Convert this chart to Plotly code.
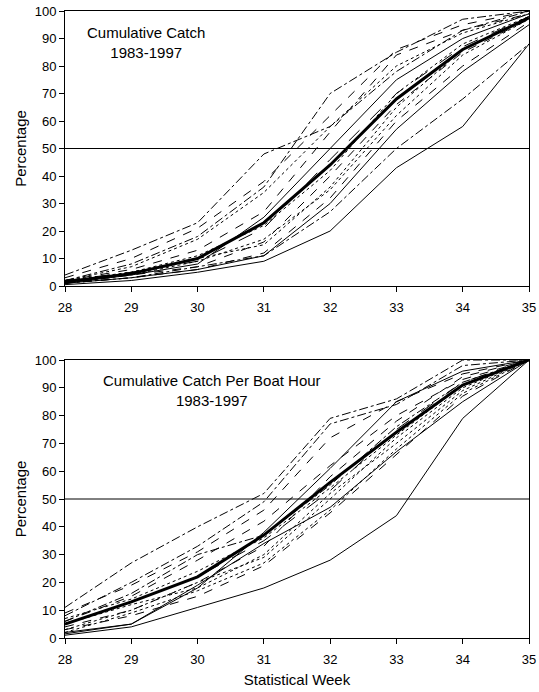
import plotly.graph_objects as go

weeks = [28, 29, 30, 31, 32, 33, 34, 35]

# Cumulative catch (%), 15 seasons 1983-1997
catch_years = [
    [0.5, 2, 5, 9, 20, 43, 58, 88],
    [1, 3, 6, 11, 30, 57, 78, 95],
    [1, 4, 8, 25, 50, 75, 90, 99],
    [4, 13, 23, 48, 58, 78, 93, 100],
    [2, 8, 18, 36, 70, 85, 97, 100],
    [3, 10, 21, 38, 62, 86, 95, 100],
    [2, 6, 13, 27, 56, 84, 93, 99],
    [2, 7, 17, 34, 58, 80, 92, 99],
    [1, 5, 11, 22, 42, 70, 88, 98],
    [1, 4, 9, 17, 35, 62, 84, 97],
    [1, 3, 7, 11, 27, 50, 68, 88],
    [1, 3, 6, 12, 32, 60, 80, 96],
    [2, 5, 10, 15, 36, 65, 86, 98],
    [1, 4, 7, 16, 40, 66, 85, 97],
    [2, 5, 9, 21, 46, 70, 87, 98],
]
catch_mean = [1.5, 4.5, 10, 23, 44, 68, 86, 97.5]

# Cumulative catch per boat hour (%)
cpue_years = [
    [1, 4, 11, 18, 28, 44, 79, 100],
    [2, 5, 19, 34, 47, 67, 85, 100],
    [1.5, 5, 18, 38, 61, 85, 96, 100],
    [11, 27, 40, 52, 79, 86, 100, 100],
    [8, 20, 33, 49, 77, 84, 98, 100],
    [9, 19, 31, 46, 72, 85, 95, 100],
    [6, 15, 28, 42, 62, 80, 93, 100],
    [3, 10, 20, 29, 50, 72, 90, 100],
    [2, 9, 17, 27, 46, 68, 88, 100],
    [5, 12, 18, 30, 52, 70, 89, 100],
    [6, 16, 30, 37, 55, 76, 92, 100],
    [4, 10, 20, 33, 58, 78, 94, 100],
    [7, 14, 24, 36, 54, 73, 91, 100],
    [3, 8, 15, 26, 45, 66, 87, 100],
    [5, 13, 22, 35, 53, 75, 92, 100],
]
cpue_mean = [5, 13, 22, 37, 56, 74, 91, 100]

dashes = ["solid", "solid", "solid", "dashdot", "dashdot", "dash", "dash", "dot",
          "dot", "dot", "dashdot", "dash", "dot", "dash", "longdash"]

fig = go.Figure()

for ys, ax in [(catch_years, ("x", "y")), (cpue_years, ("x2", "y2"))]:
    for i, y in enumerate(ys):
        fig.add_trace(go.Scatter(x=weeks, y=y, mode="lines", xaxis=ax[0], yaxis=ax[1],
                                 line=dict(color="black", width=1, dash=dashes[i]),
                                 showlegend=False, hoverinfo="skip"))

fig.add_trace(go.Scatter(x=weeks, y=catch_mean, mode="lines", xaxis="x", yaxis="y",
                         line=dict(color="black", width=3), showlegend=False))
fig.add_trace(go.Scatter(x=weeks, y=cpue_mean, mode="lines", xaxis="x2", yaxis="y2",
                         line=dict(color="black", width=3), showlegend=False))

font = dict(family="Liberation Sans, Arial, sans-serif", color="black")
axis_common = dict(showline=True, linecolor="black", linewidth=1, mirror=True,
                   ticks="outside", ticklen=5, tickcolor="black", showgrid=False,
                   zeroline=False, automargin=False, tickfont=dict(size=13, **font),
                   ticklabeloverflow="allow")
xaxis_extra = dict(ticklabelstandoff=4)

W, H = 539, 692


def fx(px):
    return px / W


def fy(py):
    return 1 - py / H


xd = [fx(65), fx(529)]
fig.update_layout(
    width=W, height=H,
    margin=dict(l=0, r=0, t=0, b=0, autoexpand=False),
    plot_bgcolor="white", paper_bgcolor="white",
    font=font,
    xaxis=dict(domain=xd, range=[28, 35], dtick=1, anchor="y", **axis_common, **xaxis_extra),
    yaxis=dict(domain=[fy(286), fy(11)], range=[0, 100], dtick=10, anchor="x",
               title=dict(text="Percentage", font=dict(size=15, **font), standoff=4),
               **axis_common),
    xaxis2=dict(domain=xd, range=[28, 35], dtick=1, anchor="y2",
                title=dict(text="Statistical Week", font=dict(size=15, **font), standoff=8),
                **axis_common, **xaxis_extra),
    yaxis2=dict(domain=[fy(638), fy(360)], range=[0, 100], dtick=10, anchor="x2",
                title=dict(text="Percentage", font=dict(size=15, **font), standoff=4),
                **axis_common),
    shapes=[
        dict(type="line", xref="x domain", yref="y", x0=0, x1=1, y0=50, y1=50,
             line=dict(color="black", width=1)),
        dict(type="line", xref="x2 domain", yref="y2", x0=0, x1=1, y0=50, y1=50,
             line=dict(color="black", width=1)),
    ],
    annotations=[
        dict(text="Cumulative Catch<br>1983-1997", xref="paper", yref="paper",
             x=fx(146), y=fy(43), showarrow=False, xanchor="center",
             yanchor="middle", font=dict(size=15, **font)),
        dict(text="Cumulative Catch Per Boat Hour<br>1983-1997", xref="paper", yref="paper",
             x=fx(212), y=fy(390), showarrow=False, xanchor="center",
             yanchor="middle", font=dict(size=15, **font)),
    ],
)

fig.write_html("out.html", config={"displayModeBar": False},
               post_script="document.body.style.margin='0';document.body.style.overflow='hidden';")
